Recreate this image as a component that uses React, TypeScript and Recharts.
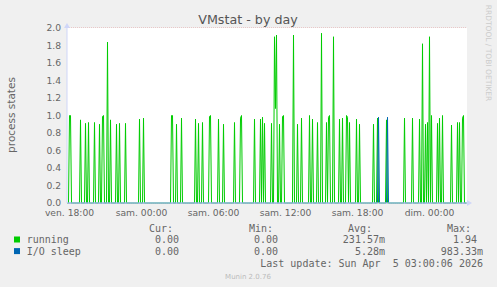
import { LineChart, Line, XAxis, YAxis, CartesianGrid, ReferenceDot } from "recharts";

// 5-minute samples, slot 0 = ven. 18:00 (one pixel per slot in the original)
const runningSlots = [
  0, 1, 11, 16, 19, 25, 30, 33, 34, 38, 41, 47, 50, 56, 70, 74,
  102, 103, 107, 112, 126, 129, 133, 140, 141, 149, 154, 165, 171, 172,
  185, 191, 193, 195, 202, 205, 206, 207, 210, 213, 214, 224, 228, 232,
  240, 243, 248, 252, 257, 259, 260, 264, 270, 273, 277, 278, 280, 287,
  290, 304, 308, 317, 335, 343, 350, 353, 356, 358, 360, 362, 368, 370,
  373, 382, 388, 390, 393, 394,
];
const runningValues = [
  1.0, 1.0, 0.95, 0.91, 0.92, 0.92, 0.9, 0.99, 1.0, 1.84, 0.95, 0.9, 0.91, 0.91, 0.96, 0.97,
  1.0, 1.0, 0.9, 0.97, 0.96, 0.91, 0.92, 0.99, 1.0, 0.96, 0.9, 0.92, 0.97, 1.0,
  0.96, 0.96, 0.98, 0.91, 0.91, 1.9, 1.08, 1.92, 0.9, 0.99, 1.0, 1.92, 0.9, 0.97,
  1.0, 0.96, 0.92, 1.94, 0.92, 0.98, 1.0, 1.9, 0.96, 0.97, 1.0, 0.98, 0.92, 0.96,
  0.9, 0.9, 0.97, 0.95, 0.97, 0.97, 0.96, 1.82, 0.9, 0.92, 1.9, 1.0, 0.91, 0.97,
  1.0, 0.89, 0.92, 0.92, 0.97, 1.0,
];
const ioSleepSlots = [309, 318];
const ioSleepValues = [0.98, 0.98];

const firstSlot = -2;
const lastSlot = 397;

const tickLabels: Record<number, string> = {
  0: "ven. 18:00",
  72: "sam. 00:00",
  144: "sam. 06:00",
  216: "sam. 12:00",
  288: "sam. 18:00",
  360: "dim. 00:00",
};

const yTicks = [0, 0.2, 0.4, 0.6, 0.8, 1.0, 1.2, 1.4, 1.6, 1.8, 2.0];
const yMinor = [0.1, 0.3, 0.5, 0.7, 0.9, 1.1, 1.3, 1.5, 1.7, 1.9];

const legendRows = [
  { name: "running", color: "#00CC00", cur: "0.00", min: "0.00", avg: "231.57m", max: "1.94 " },
  { name: "I/O sleep", color: "#0066B3", cur: "0.00", min: "0.00", avg: "5.28m", max: "983.33m" },
];

const runMap = new Map(runningSlots.map((s, i) => [s, runningValues[i]]));
const ioMap = new Map(ioSleepSlots.map((s, i) => [s, ioSleepValues[i]]));

const data: { slot: number; running: number; io: number }[] = [];
for (let s = firstSlot; s <= lastSlot; s++) {
  data.push({ slot: s, running: runMap.get(s) ?? 0, io: ioMap.get(s) ?? 0 });
}

const majorX: number[] = [];
const minorX: number[] = [];
for (let s = 0; s <= 396; s += 12) {
  if (s % 36 === 0) majorX.push(s);
  else minorX.push(s);
}

const AXIS = "#CFD6F8";
const FONT = "#666666";

const arrowRight = (p: any) => (
  <path d={`M${p.cx} ${p.cy - 3} L${p.cx + 5} ${p.cy} L${p.cx} ${p.cy + 3} Z`} fill={AXIS} />
);
const arrowUp = (p: any) => (
  <path d={`M${p.cx - 3} ${p.cy} L${p.cx} ${p.cy - 5} L${p.cx + 3} ${p.cy} Z`} fill={AXIS} />
);

export default function App() {
  const mono = "'DejaVu Sans Mono', monospace";
  return (
    <div style={{ position: "absolute", left: 0, top: 0, width: 497, height: 287, background: "#F0F0F0" }}>
      <LineChart
        width={497}
        height={287}
        data={data}
        margin={{ top: 28, right: 30, bottom: 54, left: 0 }}
        style={{ position: "absolute", left: 0, top: 0 }}
      >
        <rect x={67} y={28} width={400} height={175} fill="#ffffff" />
        <CartesianGrid
          stroke="#d6d6d6"
          strokeDasharray="1 1"
          verticalValues={minorX}
          horizontalValues={yMinor}
          fill="#ffffff"
        />
        <CartesianGrid stroke="#e3a0a0" strokeDasharray="1 1" verticalValues={majorX} horizontalValues={yTicks} />
        <XAxis
          dataKey="slot"
          type="number"
          domain={[-2.5, 397.5]}
          ticks={majorX}
          tickFormatter={(v: number) => tickLabels[v] ?? ""}
          tickLine={false}
          tickSize={0}
          tickMargin={6}
          height={30}
          stroke={AXIS}
          tick={{ fill: FONT, fontSize: 9.2, fontFamily: "'DejaVu Sans'" }}
          interval={0}
        />
        <YAxis
          type="number"
          domain={[0, 2]}
          ticks={yTicks}
          tickFormatter={(v: number) => v.toFixed(1)}
          tickLine={false}
          tickSize={0}
          tickMargin={6}
          width={67}
          stroke={AXIS}
          tick={{ fill: FONT, fontSize: 9.2, fontFamily: "'DejaVu Sans'" }}
          interval={0}
        />
        <Line
          dataKey="running"
          type="linear"
          stroke="#00CC00"
          strokeWidth={1}
          dot={false}
          isAnimationActive={false}
        />
        <Line dataKey="io" type="linear" stroke="#0066B3" strokeWidth={1} dot={false} isAnimationActive={false} />
        <ReferenceDot x={397.5} y={0} r={3} shape={arrowRight} ifOverflow="visible" />
        <ReferenceDot x={-2.5} y={2} r={3} shape={arrowUp} ifOverflow="visible" />
      </LineChart>
      <svg width={497} height={287} style={{ position: "absolute", left: 0, top: 0, pointerEvents: "none" }}>
        <text x={248} y={24} textAnchor="middle" fontSize={12.7} fill="#555" fontFamily="'DejaVu Sans'">
          VMstat - by day
        </text>
        <text
          transform="translate(15,115) rotate(-90)"
          textAnchor="middle"
          fontSize={10.5}
          fill={FONT}
          fontFamily="'DejaVu Sans'"
        >
          process states
        </text>
        <text
          transform="translate(486,53) rotate(90)"
          textAnchor="middle"
          fontSize={7.5}
          fill="#cccccc"
          fontFamily="'DejaVu Sans'"
        >
          RRDTOOL / TOBI OETIKER
        </text>
        <g fontFamily={mono} fontSize={10} fill={FONT} style={{ whiteSpace: "pre" }}>
          <text x={149} y={232}>Cur:</text>
          <text x={249} y={232}>Min:</text>
          <text x={348} y={232}>Avg:</text>
          <text x={447} y={232}>Max:</text>
          {legendRows.map((r, i) => {
            const y = 243 + i * 11.6;
            return (
              <g key={r.name}>
                <rect x={14} y={y - 6.5} width={6} height={6} fill={r.color} />
                <text x={26.7} y={y}>{r.name}</text>
                <text x={185} y={y} textAnchor="end" xmlSpace="preserve">{r.cur + " "}</text>
                <text x={284} y={y} textAnchor="end" xmlSpace="preserve">{r.min + " "}</text>
                <text x={385} y={y} textAnchor="end" xmlSpace="preserve">{r.avg}</text>
                <text x={483} y={y} textAnchor="end" xmlSpace="preserve">{r.max}</text>
              </g>
            );
          })}
          <text x={483} y={266.6} textAnchor="end" xmlSpace="preserve">
            Last update: Sun Apr  5 03:00:06 2026
          </text>
        </g>
        <text x={248} y={279} textAnchor="middle" fontSize={7} fill="#bbbbbb" fontFamily="'DejaVu Sans'">
          Munin 2.0.76
        </text>
      </svg>
    </div>
  );
}
